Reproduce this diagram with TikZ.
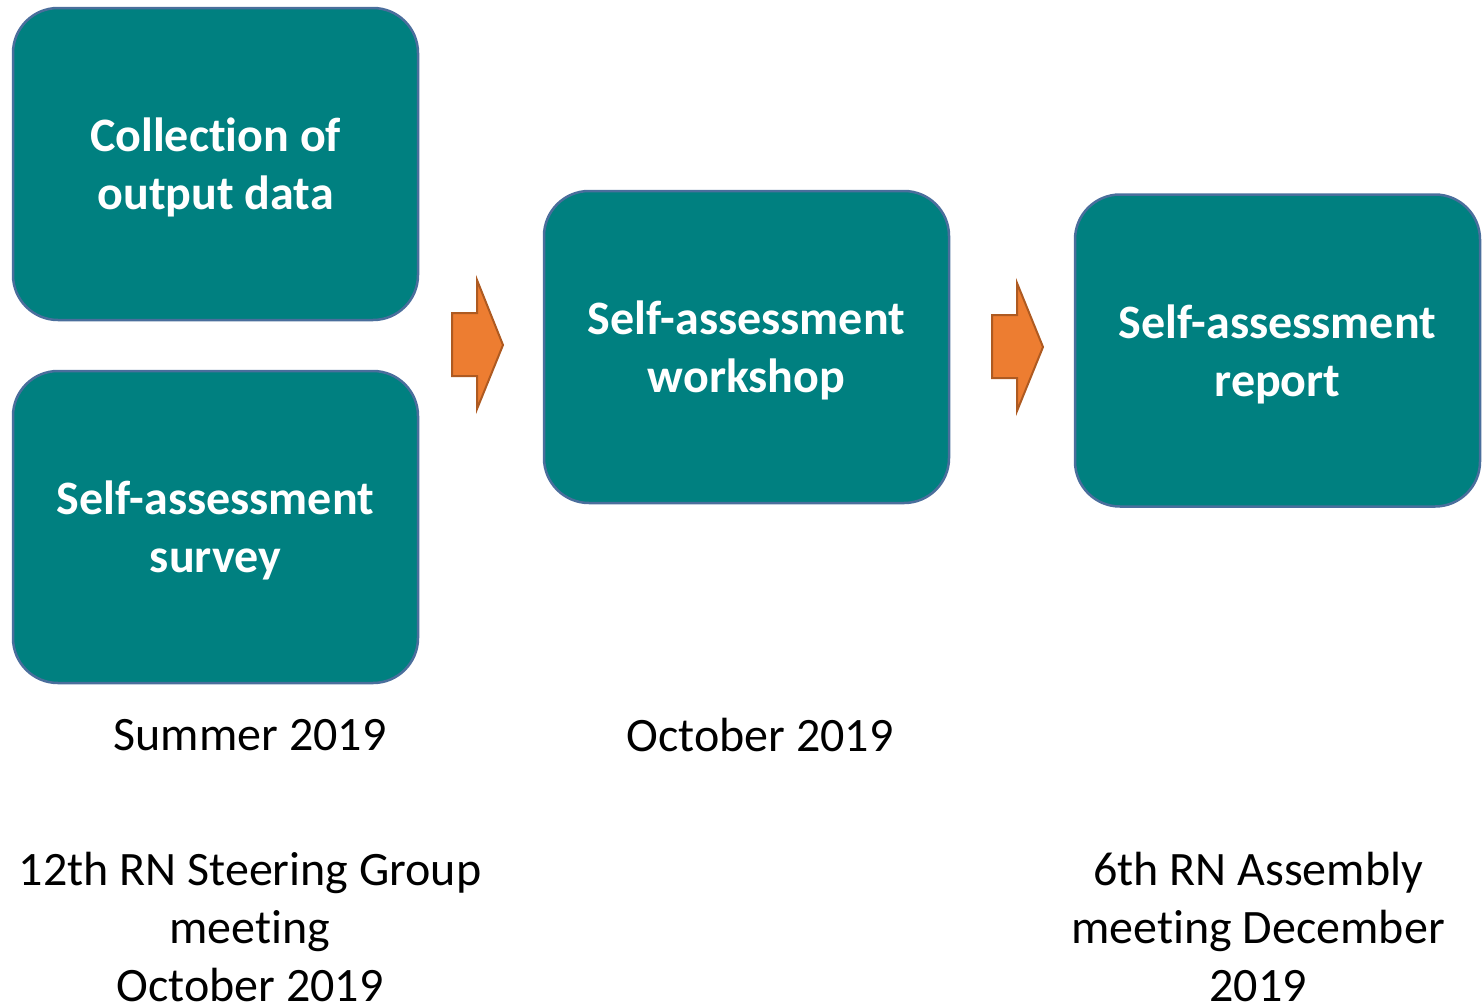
\documentclass[tikz,border=0pt]{standalone}
\usepackage{fontspec}
\setmainfont{Carlito}[RawFeature=-liga]
\definecolor{teal1}{HTML}{008080}
\definecolor{boxline}{HTML}{4A6E9C}
\definecolor{arrfill}{HTML}{ED7D31}
\definecolor{arrline}{HTML}{AE5A21}
\newcommand{\boxtwolines}[2]{\raisebox{-5pt}[\height][\depth]{\begin{tabular}{@{}c@{}}#1\\#2\end{tabular}}}
\tikzset{
  stagebox/.style={draw=boxline, line width=2.5pt, fill=teal1, rounded corners=45pt,
    minimum width=405pt, minimum height=312pt, inner sep=0pt, text=white,
    font=\fontsize{48}{58}\selectfont\bfseries},
  datelabel/.style={inner sep=0pt, text=black, font=\fontsize{48}{58}\selectfont, align=center},
  blockarrow/.style={draw=arrline, line width=2pt, fill=arrfill, line join=miter}
}
\begin{document}
\begin{tikzpicture}[x=1pt,y=-1pt]
\useasboundingbox (0,0) rectangle (1482,1002);
\node[stagebox] (collect) at (215.5,164) {\boxtwolines{Collection of}{output data}};
\node[stagebox] (survey) at (215.5,527) {\boxtwolines{Self-assessment}{survey}};
\node[stagebox] (workshop) at (746.5,347) {\boxtwolines{Self-assessment}{workshop}};
\node[stagebox] (report) at (1277.5,350.5) {\boxtwolines{Self-assessment}{report}};
\node[datelabel] (summer) at (250,735) {Summer 2019};
\node[datelabel] (october) at (760,735) {October 2019};
\node[datelabel, anchor=north] (steering) at (250,852) {12th RN Steering Group\\meeting\\October 2019};
\node[datelabel, anchor=north] (assembly) at (1258,852) {6th RN Assembly\\meeting December\\2019};
\draw[blockarrow] (452,313) -- (477,313) -- (477,280) -- (503,345) -- (477,409) -- (477,376) -- (452,376) -- cycle;
\draw[blockarrow] (992,315) -- (1017,315) -- (1017,283) -- (1043,347) -- (1017,411) -- (1017,378) -- (992,378) -- cycle;
\end{tikzpicture}
\end{document}
